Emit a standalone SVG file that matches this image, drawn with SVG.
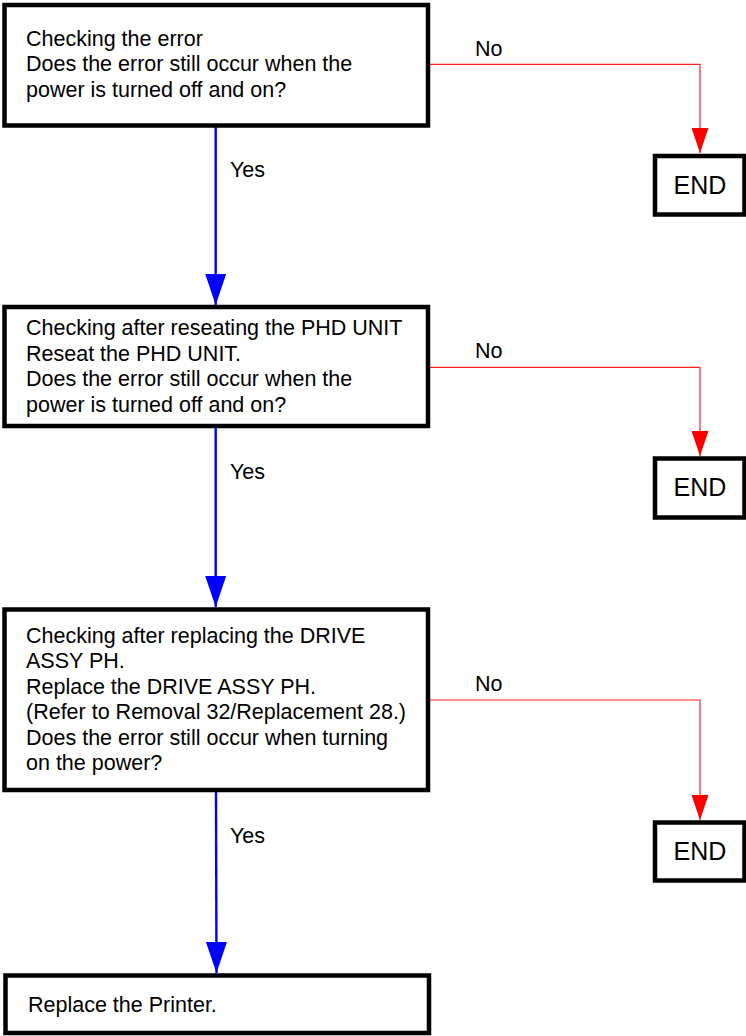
<svg xmlns="http://www.w3.org/2000/svg" width="746" height="1036" viewBox="0 0 746 1036">
  <style>
    .box { fill: #ffffff; stroke: #000000; stroke-width: 4.5; }
    .txt { font-family: "Liberation Sans", Arial, sans-serif; font-size: 21.5px; fill: #000000; }
    .end { font-family: "Liberation Sans", Arial, sans-serif; font-size: 25px; fill: #000000; text-anchor: middle; }
    .yes { fill: none; stroke: #0000ff; stroke-width: 2.4; }
    .no { fill: none; stroke: #ff2020; stroke-width: 1.2; }
  </style>
  <defs>
    <marker id="arrowBlue" markerUnits="userSpaceOnUse" markerWidth="31" markerHeight="21" refX="31" refY="10.5" orient="auto" viewBox="0 0 31 21">
      <path d="M0,0 L31,10.5 L0,21 Z" fill="#0000ff"/>
    </marker>
    <marker id="arrowRed" markerUnits="userSpaceOnUse" markerWidth="25" markerHeight="17" refX="25" refY="8.5" orient="auto" viewBox="0 0 25 17">
      <path d="M0,0 L25,8.5 L0,17 Z" fill="#ff0000"/>
    </marker>
  </defs>

  <!-- connectors -->
  <g id="connectors">
    <path class="yes" d="M215.7,127 V305" marker-end="url(#arrowBlue)"/>
    <path class="yes" d="M215.7,428 V607" marker-end="url(#arrowBlue)"/>
    <path class="yes" d="M216,792 L216.5,973" marker-end="url(#arrowBlue)"/>
    <path class="no" d="M430,64.3 H700 V153" marker-end="url(#arrowRed)"/>
    <path class="no" d="M430,367.3 H700 V456" marker-end="url(#arrowRed)"/>
    <path class="no" d="M430,700 H700 V820" marker-end="url(#arrowRed)"/>
    <text class="txt" x="475" y="56">No</text>
    <text class="txt" x="475" y="358">No</text>
    <text class="txt" x="475" y="691">No</text>
    <text class="txt" x="230" y="177">Yes</text>
    <text class="txt" x="230" y="479">Yes</text>
    <text class="txt" x="230" y="843">Yes</text>
  </g>

  <!-- step 1 -->
  <g id="check-error">
    <rect class="box" x="4.5" y="5" width="423.5" height="120.5"/>
    <text class="txt" x="26" y="45.5">Checking the error</text>
    <text class="txt" x="26" y="71">Does the error still occur when the</text>
    <text class="txt" x="26" y="96.5">power is turned off and on?</text>
  </g>
  <g id="end-1">
    <rect class="box" x="655" y="156" width="89.5" height="58.5"/>
    <text class="end" x="700" y="193.5">END</text>
  </g>

  <!-- step 2 -->
  <g id="reseat-phd">
    <rect class="box" x="4.5" y="307" width="423.5" height="119"/>
    <text class="txt" x="26" y="335">Checking after reseating the PHD UNIT</text>
    <text class="txt" x="26" y="360.5">Reseat the PHD UNIT.</text>
    <text class="txt" x="26" y="386">Does the error still occur when the</text>
    <text class="txt" x="26" y="411.5">power is turned off and on?</text>
  </g>
  <g id="end-2">
    <rect class="box" x="655" y="458.5" width="89.5" height="59"/>
    <text class="end" x="700" y="495.5">END</text>
  </g>

  <!-- step 3 -->
  <g id="replace-drive">
    <rect class="box" x="4.5" y="609.5" width="423.5" height="180.5"/>
    <text class="txt" x="26" y="643">Checking after replacing the DRIVE</text>
    <text class="txt" x="26" y="668.3">ASSY PH.</text>
    <text class="txt" x="26" y="693.5">Replace the DRIVE ASSY PH.</text>
    <text class="txt" x="26" y="718.8">(Refer to Removal 32/Replacement 28.)</text>
    <text class="txt" x="26" y="744.5">Does the error still occur when turning</text>
    <text class="txt" x="26" y="770">on the power?</text>
  </g>
  <g id="end-3">
    <rect class="box" x="655" y="822.5" width="89.5" height="58"/>
    <text class="end" x="700" y="860">END</text>
  </g>

  <!-- final step -->
  <g id="replace-printer">
    <rect class="box" x="5.5" y="975.5" width="423.5" height="57.5"/>
    <text class="txt" x="28" y="1011.5">Replace the Printer.</text>
  </g>
</svg>
